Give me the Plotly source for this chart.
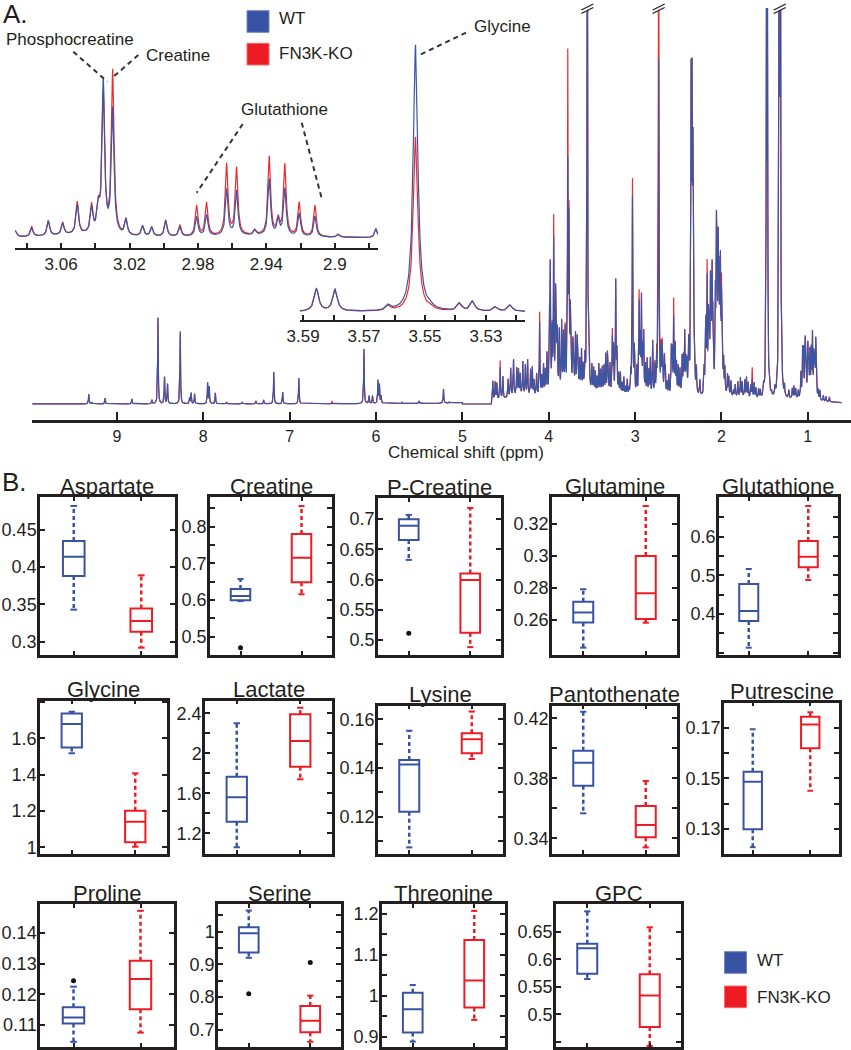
import numpy as np
import plotly.graph_objects as go

# ---------------------------------------------------------------- data
# Main 1H-NMR spectrum: resolved peaks (ppm, WT apex, FN3K-KO apex; apex heights above the flat baseline)
MAIN_PPM = [9.325, 9.29, 9.136, 8.826, 8.594, 8.524, 8.448, 8.413, 8.266, 8.158, 8.14, 8.10,
            7.949, 7.93, 7.86, 7.73, 7.55, 7.39, 7.30, 7.183, 7.08, 6.893, 6.51, 6.139, 6.08,
            6.04, 5.977, 5.96, 5.94, 5.70, 5.5, 5.218, 5.15,
            4.647, 4.60, 4.562, 4.407, 4.37, 4.33, 4.30, 4.244, 4.21, 4.17, 4.105, 4.08, 4.04,
            3.99, 3.982, 3.942, 3.92, 3.90, 3.877, 3.85, 3.779, 3.765, 3.74, 3.71, 3.67, 3.64,
            3.60, 3.553, 3.50, 3.44, 3.38, 3.34, 3.31, 3.263, 3.224, 3.19, 3.15, 3.11, 3.07,
            3.030, 3.005, 2.953, 2.926, 2.90, 2.86, 2.823, 2.796, 2.727, 2.687, 2.66, 2.63,
            2.58, 2.553, 2.535, 2.50, 2.455, 2.425, 2.40, 2.375, 2.351, 2.34, 2.33, 2.31,
            2.185, 2.166, 2.127, 2.108, 2.09, 2.058, 2.038, 2.012, 2.00, 1.975, 1.915, 1.86,
            1.78, 1.73, 1.644, 1.57, 1.479, 1.467, 1.42, 1.332, 1.318, 1.30, 1.14, 1.05,
            1.035, 1.00, 0.975, 0.946, 0.908, 0.88, 0.75]
MAIN_WT = [10, 2, 6, 5, 4, 86, 27, 20, 71, 6, 11, 10,
           21, 17, 11, 2, 2, 3, 4, 32, 12, 26, 1, 55, 8,
           8, 23, 19, 8, 2, 3, 15, 2,
           23, 21, 36, 44, 36, 30, 42, 44, 34, 24, 81, 27, 34,
           74, 129, 162, 111, 71, 71, 81, 234, 177, 57, 50, 67, 44,
           37, 600, 37, 27, 37, 50, 32, 67, 124, 30, 21, 17, 15,
           207, 47, 101, 107, 71, 44, 44, 61, 344, 59, 47, 21,
           57, 84, 57, 37, 47, 71, 41, 54, 304, 281, 227, 44,
           67, 127, 126, 137, 40, 186, 167, 139, 104, 44, 27, 14,
           26, 24, 24, 14, 381, 376, 8, 600, 600, 17, 15, 57,
           40, 61, 54, 72, 66, 14, 7]
MAIN_KO = [10, 2, 6, 5, 4, 86, 27, 20, 73, 6, 11, 10,
           21, 17, 11, 2, 2, 3, 4, 32, 12, 26, 3, 55, 8,
           8, 23, 19, 8, 2, 3, 15, 2,
           23, 21, 43, 44, 36, 30, 42, 44, 34, 24, 91, 27, 34,
           74, 129, 184, 111, 71, 71, 81, 342, 177, 57, 50, 67, 44,
           37, 600, 37, 27, 37, 50, 32, 74, 124, 30, 21, 17, 15,
           224, 47, 111, 107, 71, 44, 44, 61, 600, 59, 47, 21,
           57, 102, 57, 37, 47, 71, 41, 54, 304, 281, 227, 44,
           67, 141, 126, 137, 40, 186, 167, 139, 117, 44, 27, 14,
           26, 24, 36, 14, 381, 376, 8, 600, 600, 21, 15, 57,
           40, 61, 54, 72, 66, 14, 7]
# unresolved small peaks of the crowded aliphatic region (both groups)
GRASS_PPM = [4.62, 4.53, 4.47, 4.44, 4.35, 4.27, 4.19, 4.14, 4.06, 4.02, 3.96, 3.91, 3.83,
             3.81, 3.75, 3.72, 3.69, 3.66, 3.62, 3.58, 3.53, 3.48, 3.46, 3.42, 3.40, 3.36,
             3.32, 3.29, 3.25, 3.21, 3.17, 3.13, 3.09, 3.05, 3.01, 2.98, 2.94, 2.91, 2.88,
             2.84, 2.77, 2.75, 2.70, 2.68, 2.65, 2.61, 2.57, 2.52, 2.48, 2.44, 2.41, 2.38,
             2.32, 2.29, 2.25, 2.20, 2.18, 2.15, 2.14, 2.12, 2.10, 2.07, 2.05, 2.03, 2.02,
             1.99, 1.96, 1.93, 1.89, 1.84, 1.81, 1.76, 1.71, 1.69, 1.66, 1.62, 1.60, 1.55,
             1.51, 1.44, 1.38, 1.30, 1.27, 1.22, 1.18, 1.16, 1.11, 1.08, 1.06, 1.03, 1.02,
             0.99, 0.96, 0.93, 0.92, 0.90, 0.86, 0.82, 0.79]
GRASS_H = [18, 22, 18, 28, 25, 30, 28, 22, 30, 40, 60, 45, 55,
           60, 70, 45, 55, 35, 40, 30, 30, 25, 22, 30, 24, 28,
           40, 30, 45, 40, 22, 18, 16, 22, 35, 28, 50, 40, 30,
           25, 30, 35, 40, 35, 25, 20, 40, 30, 25, 35, 30, 35,
           60, 25, 15, 25, 55, 70, 60, 80, 60, 90, 100, 90, 70,
           50, 25, 20, 15, 12, 15, 15, 20, 15, 12, 15, 10, 8,
           10, 8, 8, 15, 10, 8, 10, 12, 8, 25, 45, 50, 35,
           40, 45, 40, 35, 25, 10, 6, 5]
# broad macromolecular background
BROAD_PPM = [4.35, 3.75, 3.2, 2.5, 1.9, 1.1]
BROAD_H = [6, 9, 4, 4, 5, 3]
BROAD_W = [0.2, 0.3, 0.25, 0.3, 0.35, 0.25]
WATER_REGION = (4.66, 5.0)

# Inset 1: creatine / glutathione region
INS1_PPM = [3.0865, 3.0771, 3.0674, 3.059, 3.0505, 3.0421, 3.0382, 3.0353, 3.0298, 3.022,
            3.0123, 3.007, 2.9988, 2.9905, 2.9807, 2.9749, 2.9632, 2.9574, 2.9467, 2.9383,
            2.9331, 2.9292, 2.9208, 2.9116, 2.898, 2.876]
INS1_WT = [6, 8.5, 15, 11.5, 29, 25, 22, 153, 125, 16, 10, 9, 15.5, 9.5, 19.5, 21.3, 46.3,
           44.7, 5, 56.3, 15.3, 47.3, 23, 20.7, 3, 8.7]
INS1_KO = [6, 10, 15, 12.5, 32, 28, 24, 138, 163, 16, 10, 9, 16.5, 11, 30.3, 33, 71.3,
           67.3, 5, 78.7, 15.3, 71.3, 33.7, 31.3, 3, 8.7]
INS1_BROAD_PPM = [3.05, 2.95]
INS1_BROAD_H = [3, 2]
INS1_BROAD_W = [0.02, 0.03]

# Inset 2: glycine region
INS2_PPM = [3.5856, 3.5795, 3.562, 3.5531, 3.548, 3.5387, 3.5344, 3.5269, 3.5221]
INS2_WT = [22.4, 21.7, 5, 266.7, 2, 7.7, 10, 4.4, 6.4]
INS2_KO = [22.4, 21.7, 5, 174.7, 2, 7.7, 10, 4.4, 6.4]

MAIN_TICKS = [1, 2, 3, 4, 5, 6, 7, 8, 9]
INS1_TICKS = [2.88, 2.90, 2.92, 2.94, 2.96, 2.98, 3.00, 3.02, 3.04, 3.06, 3.08]
INS1_TICKTEXT = ['', '2.9', '', '2.94', '', '2.98', '', '3.02', '', '3.06', '']
INS2_TICKS = [3.52, 3.53, 3.54, 3.55, 3.56, 3.57, 3.58, 3.59]
INS2_TICKTEXT = ['', '3.53', '', '3.55', '', '3.57', '', '3.59']

# Box plots (B): five-number summaries
METABOLITES = ['Aspartate', 'Creatine', 'P-Creatine', 'Glutamine', 'Glutathione',
               'Glycine', 'Lactate', 'Lysine', 'Pantothenate', 'Putrescine',
               'Proline', 'Serine', 'Threonine', 'GPC']
WT_LO = [0.343, 0.597, 0.6325, 0.2427, 0.313, 1.517, 1.06, 0.1074, 0.3567, 0.1228, 0.1045, 0.920, 0.888, 0.564]
WT_Q1 = [0.388, 0.599, 0.6656, 0.2585, 0.382, 1.550, 1.316, 0.122, 0.3751, 0.1299, 0.1105, 0.936, 0.910, 0.5736]
WT_MED = [0.414, 0.611, 0.689, 0.2646, 0.408, 1.679, 1.56, 0.1415, 0.3904, 0.1487, 0.1124, 0.995, 0.967, 0.620]
WT_Q3 = [0.435, 0.630, 0.700, 0.2714, 0.4775, 1.737, 1.766, 0.1433, 0.3984, 0.1526, 0.1158, 1.013, 1.007, 0.628]
WT_HI = [0.482, 0.657, 0.707, 0.2792, 0.5163, 1.746, 2.30, 0.1553, 0.4244, 0.1694, 0.1225, 1.064, 1.026, 0.687]
WT_OUT = [[], [0.470], [0.511], [], [], [], [], [], [], [], [0.1244], [0.81], [], []]
KO_LO = [0.292, 0.6155, 0.488, 0.2583, 0.4879, 1.003, 1.74, 0.1437, 0.334, 0.1451, 0.1075, 0.664, 0.941, 0.4425]
KO_Q1 = [0.3134, 0.648, 0.512, 0.2606, 0.5207, 1.0275, 1.866, 0.1461, 0.3407, 0.1619, 0.1151, 0.693, 0.971, 0.477]
KO_MED = [0.3277, 0.715, 0.599, 0.2767, 0.548, 1.141, 2.123, 0.1518, 0.3489, 0.1713, 0.125, 0.728, 1.037, 0.534]
KO_Q3 = [0.3447, 0.780, 0.610, 0.300, 0.5886, 1.201, 2.39, 0.1543, 0.3615, 0.1743, 0.131, 0.773, 1.136, 0.5725]
KO_HI = [0.389, 0.856, 0.7185, 0.3313, 0.679, 1.407, 2.456, 0.1632, 0.3782, 0.1761, 0.1473, 0.8046, 1.207, 0.658]
KO_OUT = [[], [], [], [], [], [], [], [], [], [], [], [0.906], [], []]

TICK_VALS = [[0.3, 0.35, 0.4, 0.45],
             [0.5, 0.55, 0.6, 0.65, 0.7, 0.75, 0.8, 0.85],
             [0.5, 0.55, 0.6, 0.65, 0.7],
             [0.26, 0.28, 0.3, 0.32],
             [0.3, 0.35, 0.4, 0.45, 0.5, 0.55, 0.6, 0.65, 0.7],
             [1, 1.2, 1.4, 1.6, 1.8],
             [1.2, 1.4, 1.6, 1.8, 2, 2.2, 2.4],
             [0.11, 0.12, 0.13, 0.14, 0.15, 0.16],
             [0.34, 0.36, 0.38, 0.40, 0.42],
             [0.13, 0.14, 0.15, 0.16, 0.17],
             [0.11, 0.12, 0.13, 0.14],
             [0.65, 0.7, 0.75, 0.8, 0.85, 0.9, 0.95, 1.0, 1.05],
             [0.9, 0.95, 1.0, 1.05, 1.1, 1.15, 1.2],
             [0.45, 0.5, 0.55, 0.6, 0.65]]
TICK_TEXT = [['0.3', '0.35', '0.4', '0.45'],
             ['0.5', '', '0.6', '', '0.7', '', '0.8', ''],
             ['0.5', '0.55', '0.6', '0.65', '0.7'],
             ['0.26', '0.28', '0.3', '0.32'],
             ['', '', '0.4', '', '0.5', '', '0.6', '', ''],
             ['1', '1.2', '1.4', '1.6', ''],
             ['1.2', '', '1.6', '', '2', '', '2.4'],
             ['', '0.12', '', '0.14', '', '0.16'],
             ['0.34', '', '0.38', '', '0.42'],
             ['0.13', '', '0.15', '', '0.17'],
             ['0.11', '0.12', '0.13', '0.14'],
             ['', '0.7', '', '0.8', '', '0.9', '', '1', ''],
             ['0.9', '', '1', '', '1.1', '', '1.2'],
             ['0.45', '0.5', '0.55', '0.6', '0.65']]
Y_RANGES = [(0.2822, 0.494), (0.450, 0.8807), (0.475, 0.735), (0.2381, 0.3369), (0.294, 0.7023),
            (0.963, 1.807), (0.993, 2.526), (0.1047, 0.1656), (0.3296, 0.4284), (0.1201, 0.1799),
            (0.1028, 0.1495), (0.648, 1.084), (0.8749, 1.2237), (0.4405, 0.7004)]

# ---------------------------------------------------------------- layout helpers
W, H = 851, 1050
def fx(p):
    return p / W
def fy(p):
    return 1 - p / H

# panel frames in pixels: left, right, top, bottom
PANELS = [(40, 175, 497, 655), (210, 332, 497, 655), (378, 501, 498, 655), (552, 677, 497, 655),
          (719, 838, 497, 655),
          (40, 167, 700.7, 854), (205, 332, 700.7, 854), (378, 503, 705.7, 854),
          (552, 677, 705.7, 854), (724, 839, 702.7, 854),
          (40, 174, 904, 1047), (218, 341, 904, 1047), (382, 505, 904, 1047), (556, 681, 904, 1047)]

BLUE = '#3953A4'
RED = '#ED1C24'
SPEC_BLUE = '#3C56A6'
SPEC_RED = '#EE2A2E'
INK = '#231F20'
FONT = 'Liberation Sans, Arial, sans-serif'


def lorentz(x, centers, heights, hw):
    c = np.asarray(centers, float)[None, :]
    h = np.asarray(heights, float)[None, :]
    w = np.asarray(hw, float)
    if w.ndim:
        w = w[None, :]
    return (h * w ** 2 / ((x[:, None] - c) ** 2 + w ** 2)).sum(axis=1)


# ---------------------------------------------------------------- spectra
grid = np.unique(np.concatenate([np.arange(0.61, 9.98, 0.002), MAIN_PPM, GRASS_PPM]))
def background(x):
    return lorentz(x, GRASS_PPM, GRASS_H, 0.004) + lorentz(x, BROAD_PPM, BROAD_H, BROAD_W)
common = background(grid)
# apex heights were read above the flat baseline: remove the local background below each apex
under = background(np.asarray(MAIN_PPM, float))
wt_eff = np.maximum(np.asarray(MAIN_WT, float) - under, 0)
ko_eff = np.maximum(np.asarray(MAIN_KO, float) - under, 0)
spec_wt = lorentz(grid, MAIN_PPM, wt_eff, 0.004) + common
spec_ko = lorentz(grid, MAIN_PPM, ko_eff, 0.004) + common
water = (grid > WATER_REGION[0]) & (grid < WATER_REGION[1])
spec_wt[water] = 0
spec_ko[water] = 0

g1 = np.unique(np.concatenate([np.arange(2.8748, 3.0869, 0.0002), INS1_PPM]))
bg1 = lorentz(g1, INS1_BROAD_PPM, INS1_BROAD_H, INS1_BROAD_W)
ins1_wt = lorentz(g1, INS1_PPM, INS1_WT, 0.0009) + bg1
ins1_ko = lorentz(g1, INS1_PPM, INS1_KO, 0.0009) + bg1

g2 = np.unique(np.concatenate([np.arange(3.5172, 3.591, 0.0001), INS2_PPM]))
ins2_wt = lorentz(g2, INS2_PPM, INS2_WT, 0.0009)
ins2_ko = lorentz(g2, INS2_PPM, INS2_KO, 0.0009)

fig = go.Figure()
for xs, wt, ko, ax in [(grid, spec_wt, spec_ko, ''), (g1, ins1_wt, ins1_ko, '2'), (g2, ins2_wt, ins2_ko, '3')]:
    fig.add_trace(go.Scatter(x=xs, y=ko, mode='lines', line=dict(color=SPEC_RED, width=1.2),
                             xaxis='x' + ax, yaxis='y' + ax, hoverinfo='skip', showlegend=False))
    fig.add_trace(go.Scatter(x=xs, y=wt, mode='lines', line=dict(color=SPEC_BLUE, width=1.2),
                             xaxis='x' + ax, yaxis='y' + ax, hoverinfo='skip', showlegend=False))

MAIN_YTOP = 396
layout = dict(
    width=W, height=H, margin=dict(l=0, r=0, t=0, b=0, pad=0, autoexpand=False),
    paper_bgcolor='white', plot_bgcolor='rgba(0,0,0,0)', showlegend=False,
    font=dict(family=FONT, color=INK),
    xaxis=dict(domain=[fx(31.7), 1], range=[9.986, 0.5], anchor='y', showline=True, linewidth=2.5,
               linecolor=INK, ticks='inside', ticklen=8, tickwidth=2, tickcolor=INK,
               tickvals=MAIN_TICKS, ticktext=[str(t) for t in MAIN_TICKS], tickfont=dict(size=16),
               showgrid=False, zeroline=False, automargin=False),
    yaxis=dict(domain=[fy(420), fy(8)], range=[-16, MAIN_YTOP], visible=False, anchor='x',
               automargin=False),
    xaxis2=dict(domain=[fx(15), fx(378)], range=[3.0869, 2.8748], anchor='y2', showline=True,
                linewidth=2, linecolor=INK, ticks='inside', ticklen=5, tickwidth=1.5, tickcolor=INK,
                tickvals=INS1_TICKS, ticktext=INS1_TICKTEXT, tickfont=dict(size=17),
                showgrid=False, zeroline=False, automargin=False),
    yaxis2=dict(domain=[fy(248), fy(60)], range=[-10, 178], visible=False, anchor='x2',
                automargin=False),
    xaxis3=dict(domain=[fx(300), fx(525)], range=[3.591, 3.5172], anchor='y3', showline=True,
                linewidth=2, linecolor=INK, ticks='inside', ticklen=5, tickwidth=1.5, tickcolor=INK,
                tickvals=INS2_TICKS, ticktext=INS2_TICKTEXT, tickfont=dict(size=17),
                showgrid=False, zeroline=False, automargin=False),
    yaxis3=dict(domain=[fy(320), fy(40)], range=[-8.3, 271.7], visible=False, anchor='x3',
                automargin=False),
)

shapes = []
annotations = []

# break marks on clipped peaks
clipped = sorted(p for p, a, b in zip(MAIN_PPM, MAIN_WT, MAIN_KO) if max(a, b) > MAIN_YTOP)
groups = []
for p in clipped:
    if groups and abs(p - groups[-1][-1]) < 0.03:
        groups[-1].append(p)
    else:
        groups.append([p])
for gr in groups:
    xc = float(np.mean(gr))
    base = dict(type='line', xref='x', yref='paper', xsizemode='pixel', ysizemode='pixel',
                xanchor=xc, yanchor=fy(9))
    shapes.append(dict(base, x0=-6, x1=6, y0=-3, y1=4, line=dict(color='white', width=4)))
    shapes.append(dict(base, x0=-6, x1=6, y0=-4.5, y1=1.5, line=dict(color=INK, width=1.3)))
    shapes.append(dict(base, x0=-6, x1=6, y0=-1, y1=5, line=dict(color=INK, width=1.3)))

# leader lines of the spectrum labels
LEADERS = [((73.3, 51.7), (107.3, 81.7)), ((138.3, 55), (111.7, 78.3)),
           ((242.7, 124), (196.7, 192.7)), ((301.7, 122.7), (321.7, 198.3)),
           ((466, 32.7), (417.3, 56))]
for (xa, ya), (xb, yb) in LEADERS:
    shapes.append(dict(type='line', xref='paper', yref='paper', x0=fx(xa), y0=fy(ya), x1=fx(xb),
                       y1=fy(yb), line=dict(color='#333333', width=2, dash='5px,4px')))

def text(x, y, s, size, anchor='center'):
    annotations.append(dict(x=fx(x), y=fy(y), xref='paper', yref='paper', text=s, showarrow=False,
                            xanchor=anchor, yanchor='middle', font=dict(size=size, color=INK, family=FONT)))

text(70, 40, 'Phosphocreatine', 17)
text(178, 55, 'Creatine', 17)
text(284, 110, 'Glutathione', 17)
text(503, 27, 'Glycine', 17)
text(466, 452, 'Chemical shift (ppm)', 17)
text(1, 14, 'A.', 26, 'left')
text(0, 482, 'B.', 26, 'left')

# legends
def legend(x0, ytops, labels_y):
    for (yt, yb), col, edge, lab, ly in zip(ytops, [BLUE, RED], ['#7084C4', '#F36B6F'],
                                            ['WT', 'FN3K-KO'], labels_y):
        shapes.append(dict(type='rect', xref='paper', yref='paper', x0=fx(x0), x1=fx(x0 + 22),
                           y0=fy(yb), y1=fy(yt), fillcolor=col, line=dict(color=edge, width=1)))
        text(x0 + 30, ly, lab, 17, 'left')

legend(247, [(10.7, 32.3), (43.3, 65)], [19, 54])
legend(724.5, [(951.7, 973.3), (986, 1007.7)], [960, 997])

# ---------------------------------------------------------------- box plots
BOX_W = 0.32
CAP = 0.05
for i, name in enumerate(METABOLITES):
    n = i + 4
    xa, ya = f'x{n}', f'y{n}'
    l, r, t, b = PANELS[i]
    layout[f'xaxis{n}'] = dict(domain=[fx(l), fx(r)], range=[0.5, 2.5], anchor=ya, showline=True,
                               mirror='ticks', linewidth=2.5, linecolor=INK, ticks='inside',
                               ticklen=4, tickwidth=2, tickcolor=INK, tickvals=[1, 2],
                               showticklabels=False, showgrid=False, zeroline=False,
                               automargin=False)
    layout[f'yaxis{n}'] = dict(domain=[fy(b), fy(t)], range=list(Y_RANGES[i]), anchor=xa,
                               showline=True, mirror='ticks', linewidth=2.5, linecolor=INK,
                               ticks='inside', ticklen=5, tickwidth=2, tickcolor=INK,
                               tickvals=TICK_VALS[i], ticktext=TICK_TEXT[i], ticklabelstandoff=-3,
                               tickfont=dict(size=18, color=INK), showgrid=False, zeroline=False,
                               automargin=False)
    text((l + r) / 2, t - 11, name, 22)
    groups_stats = [(1, BLUE, WT_LO[i], WT_Q1[i], WT_MED[i], WT_Q3[i], WT_HI[i], WT_OUT[i]),
                    (2, RED, KO_LO[i], KO_Q1[i], KO_MED[i], KO_Q3[i], KO_HI[i], KO_OUT[i])]
    for pos, col, lo, q1, med, q3, hi, outs in groups_stats:
        fig.add_trace(go.Scatter(x=[pos, pos, None, pos, pos], y=[q3, hi, None, q1, lo],
                                 mode='lines', line=dict(color=col, width=2.5, dash='4px,3px'),
                                 xaxis=xa, yaxis=ya, hoverinfo='skip', showlegend=False))
        fig.add_trace(go.Scatter(x=[pos - CAP, pos + CAP, None, pos - CAP, pos + CAP],
                                 y=[hi, hi, None, lo, lo], mode='lines',
                                 line=dict(color=col, width=2), xaxis=xa, yaxis=ya,
                                 hoverinfo='skip', showlegend=False))
        fig.add_trace(go.Box(x=[pos], q1=[q1], median=[med], q3=[q3], lowerfence=[q1],
                             upperfence=[q3], width=BOX_W, whiskerwidth=0, boxpoints=False,
                             line=dict(color=col, width=2), fillcolor='rgba(255,255,255,0)',
                             xaxis=xa, yaxis=ya, hoverinfo='skip', showlegend=False))
        if outs:
            fig.add_trace(go.Scatter(x=[pos] * len(outs), y=outs, mode='markers',
                                     marker=dict(color='#111111', size=5), xaxis=xa, yaxis=ya,
                                     hoverinfo='skip', showlegend=False))

layout['shapes'] = shapes
layout['annotations'] = annotations
fig.update_layout(**layout)
fig.write_html('out.html', config={'displayModeBar': False},
               post_script="document.body.style.margin='0px';")
